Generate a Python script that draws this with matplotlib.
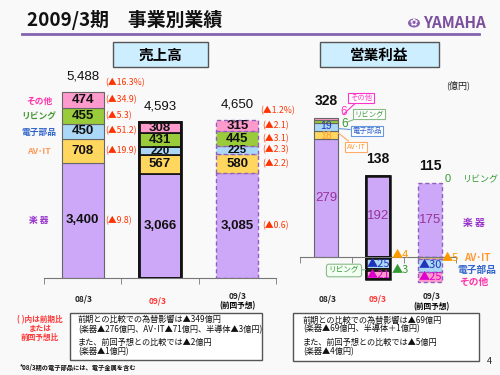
import matplotlib
matplotlib.use('Agg')
import matplotlib.pyplot as plt
import numpy as np
from matplotlib.patches import Rectangle, Circle

plt.rcParams['font.family'] = ['Noto Sans CJK JP', 'DejaVu Sans']

W, H = 500, 375
fig = plt.figure(figsize=(5, 3.75), dpi=100)
fig.patch.set_facecolor('#f9f9f9')

NUMF = ['Liberation Sans', 'DejaVu Sans']

# ---------------- data ----------------
periods = ['08/3', '09/3', '09/3']
period_sub = ['', '', '(前回予想)']
segments = ['楽 器', 'AV･IT', '電子部品', 'リビング', 'その他']
seg_colors = ['#CDA8F8', '#FFD75E', '#AAD8F6', '#9ACB3A', '#FF9ACD']
seg_text_colors = ['#9933CC', '#FF9955', '#3366CC', '#449933', '#FF33AA']

sales_gakki = [3400, 3066, 3085]
sales_avit = [708, 567, 580]
sales_denshi = [450, 220, 225]
sales_living = [455, 431, 445]
sales_other = [474, 308, 315]
sales_total = [5488, 4593, 4650]
sales_chg_prev = ['(▲9.8)', '(▲19.9)', '(▲51.2)', '(▲5.3)', '(▲34.9)']
sales_chg_fcst = ['(▲0.6)', '(▲2.2)', '(▲2.3)', '(▲3.1)', '(▲2.1)']
sales_total_chg = ['(▲16.3%)', '', '(▲1.2%)']

op_gakki = [279, 192, 175]
op_avit = [18, -4, -5]
op_denshi = [19, -25, -30]
op_living = [6, -3, 0]
op_other = [6, -21, -25]
op_total = [328, 138, 115]


def ftext(x, y, s, **kw):
    return fig.text(x / W, 1 - y / H, s, **kw)


def frect(x0, y0, x1, y1, **kw):
    r = Rectangle((x0 / W, 1 - y1 / H), (x1 - x0) / W, (y1 - y0) / H,
                  transform=fig.transFigure, **kw)
    fig.patches.append(r)
    return r


def fmt_tri(v):
    return ('▲%d' % -v) if v < 0 else '%d' % v


styles = [dict(edgecolor='#666666', linewidth=0.8, linestyle='-'),
          dict(edgecolor='#111111', linewidth=1.2, linestyle='-'),
          dict(edgecolor='#9060C0', linewidth=1.0, linestyle=(0, (3, 2)))]

# ---------------- title ----------------
ftext(27, 20, '2009/3期　事業別業績', fontsize=13.6, fontweight='bold', va='center', ha='left',
      color='#111111')
fig.add_artist(plt.Line2D([22 / W, 479 / W], [1 - 34 / H, 1 - 34 / H], transform=fig.transFigure,
                          color='#8563B0', lw=2))
fig.patches.append(Circle((414 / W, 1 - 23 / H), 6 / W, transform=fig.transFigure,
                          facecolor='#8A62B0', edgecolor='none'))
ftext(414, 23, '✿', fontsize=7, ha='center', va='center', color='white', family=['DejaVu Sans'])
ftext(423, 22.5, 'YAMAHA', fontsize=11, fontweight='bold', ha='left', va='center', color='#7B4F9E')

# header boxes
frect(113, 42, 208, 67, facecolor='#CCEEFF', edgecolor='#555555', lw=1)
ftext(160.5, 54.5, '売上高', fontsize=10.5, fontweight='bold', ha='center', va='center')
frect(320, 42, 439, 67, facecolor='#CCEEFF', edgecolor='#555555', lw=1)
ftext(379.5, 54.5, '営業利益', fontsize=10.5, fontweight='bold', ha='center', va='center')

# ---------------- left chart: sales ----------------
axL = fig.add_axes([44 / W, (H - 278) / H, 232 / W, 6000 * 0.03389 / H])
axL.set_xlim(-0.5, 2.5)
axL.set_ylim(0, 6000)
axL.patch.set_alpha(0)
for s in ['top', 'left', 'right']:
    axL.spines[s].set_visible(False)
axL.spines['bottom'].set_color('#777777')
axL.set_yticks([])
axL.set_xticks([])
axL.set_xticks([-0.5, 0.5, 1.5, 2.5], minor=True)
axL.tick_params(axis='x', which='minor', length=4, color='#777777')

sales_series = [sales_gakki, sales_avit, sales_denshi, sales_living, sales_other]
bwL = 0.54
x_idx = np.arange(3)
for i in x_idx:
    bottom = 0
    for k, ser in enumerate(sales_series):
        v = ser[i]
        axL.bar(i, v, bottom=bottom, width=bwL, color=seg_colors[k], **styles[i])
        fs = 8.2 if v < 300 else 9.5
        axL.text(i, bottom + v / 2, f'{v:,}', ha='center', va='center', fontsize=fs,
                 fontweight='bold', color='#111111', family=NUMF)
        if i == 0:
            axL.text(i + bwL / 2 + 0.02, bottom + v / 2, sales_chg_prev[k], ha='left', va='center',
                     fontsize=6.3, color='#FF3300')
        if i == 2:
            axL.text(i + bwL / 2 + 0.05, bottom + v / 2, sales_chg_fcst[k], ha='left', va='center',
                     fontsize=6.3, color='#FF3300')
        bottom += v
    if i == 1:
        axL.bar(i, sales_total[i], width=bwL, fill=False, edgecolor='#111111', linewidth=2)
    axL.annotate(f'{sales_total[i]:,}', xy=(i, sales_total[i]), xytext=(0, 11.5),
                 textcoords='offset points', ha='center', va='center', fontsize=9.5,
                 color='#111111', family=NUMF)
    if sales_total_chg[i]:
        axL.annotate(sales_total_chg[i], xy=(i + bwL / 2 + 0.02, sales_total[i]), xytext=(0, 7),
                     textcoords='offset points', ha='left', va='center', fontsize=6.3,
                     color='#FF3300')

# left category labels
for k, (lab, yy) in enumerate(zip(segments, [220, 152, 132, 117, 101])):
    ftext(39, yy, lab, ha='center', va='center', fontsize=6.3, fontweight='bold',
          color=seg_text_colors[k])

# x labels left
for i, (xx, yy) in enumerate(zip([84, 158, 238], [299, 301, 296])):
    ftext(xx, yy, periods[i], ha='center', va='center', fontsize=6, fontweight='bold',
          color='#FF3333' if i == 1 else '#222222')
ftext(238, 306, period_sub[2], ha='center', va='center', fontsize=5.5, fontweight='bold')

# ---------------- right chart: operating income ----------------
sc = 0.424
axR = fig.add_axes([300 / W, (H - (257 + 70 * sc)) / H, 156 / W, 450 * sc / H])
axR.set_xlim(-0.5, 2.5)
axR.set_ylim(-70, 380)
axR.patch.set_alpha(0)
for s in ['top', 'left', 'right']:
    axR.spines[s].set_visible(False)
axR.spines['bottom'].set_position(('data', 0))
axR.spines['bottom'].set_color('#777777')
axR.set_yticks([])
axR.set_xticks([])
axR.set_xticks([-0.5, 0.5, 1.5, 2.5], minor=True)
axR.tick_params(axis='x', which='minor', length=4, color='#777777')

op_series = [op_gakki, op_avit, op_denshi, op_living, op_other]
bwR = 0.48
op_label_pos = {}
for i in x_idx:
    pos_b, neg_b = 0, 0
    for k, ser in enumerate(op_series):
        v = ser[i]
        if v >= 0:
            b = pos_b
            pos_b += v
        else:
            b = neg_b
            neg_b += v
        if v != 0:
            axR.bar(i, v, bottom=b, width=bwR, color=seg_colors[k], **styles[i])
        op_label_pos[(i, k)] = b + v / 2
    if i == 1:
        axR.bar(i, pos_b, width=bwR, fill=False, edgecolor='#111111', linewidth=1.8)
        axR.bar(i, neg_b, width=bwR, fill=False, edgecolor='#111111', linewidth=1.8)
    axR.annotate(f'{op_total[i]}', xy=(i, pos_b), xytext=(0, 12),
                 textcoords='offset points', ha='center', va='center', fontsize=10,
                 fontweight='bold', color='#111111', family=NUMF)

# in-bar labels
for i in x_idx:
    axR.text(i, op_label_pos[(i, 0)], f'{op_gakki[i]}', ha='center', va='center', fontsize=9.5,
             color='#993399', family=NUMF)
axR.text(0, op_label_pos[(0, 1)] - 1.5, f'{op_avit[0]}', ha='center', va='center', fontsize=7.5,
         color='#FF9933', family=NUMF)
axR.text(0, op_label_pos[(0, 2)] + 1.5, f'{op_denshi[0]}', ha='center', va='center', fontsize=7.5,
         color='#2233BB', family=NUMF)
for i in [1, 2]:
    axR.text(i, op_label_pos[(i, 2)], fmt_tri(op_denshi[i]), ha='center', va='center',
             fontsize=8, color='#2233BB')
    axR.text(i, op_label_pos[(i, 4)], fmt_tri(op_other[i]), ha='center', va='center',
             fontsize=8, color='#DD00CC')
# outside labels
axR.text(1 + bwR / 2 + 0.03, 5, fmt_tri(op_avit[1]), ha='left', va='center', fontsize=8,
         color='#FF9900')
axR.text(1 + bwR / 2 + 0.03, -30, fmt_tri(op_living[1]), ha='left', va='center', fontsize=8,
         color='#339933')
axR.text(2 + bwR / 2 - 0.02, -2, fmt_tri(op_avit[2]), ha='left', va='center', fontsize=8,
         color='#FF9900')
axR.text(2 + bwR / 2 + 0.05, 185, fmt_tri(op_living[2]), ha='left', va='center', fontsize=8,
         color='#339933', family=NUMF)
ftext(462, 180, 'リビング', ha='left', va='center', fontsize=6.5, color='#339933')

# 08/3 small values with callouts
axR.text(0 + bwR / 2 + 0.03, 342, f'{op_other[0]}', ha='left', va='center', fontsize=8.5,
         color='#FF33CC', family=NUMF)
axR.text(0 + bwR / 2 + 0.05, 314, f'{op_living[0]}', ha='left', va='center', fontsize=8.5,
         color='#339933', family=NUMF)

callouts = [('その他', 361, 98, '#FF33CC', '#FF33CC', (0.33, 336)),
            ('リビング', 369, 114, '#339933', '#88BB88', (0.4, 318)),
            ('電子部品', 367, 131, '#3366CC', '#6699DD', (0.24, 303)),
            ('AV･IT', 356, 147, '#FF9933', '#FFAA66', (0.24, 292))]
for lab, xx, yy, tc, ec, xy in callouts:
    axR.annotate(lab, xy=xy, xytext=(xx / W, 1 - yy / H), textcoords='figure fraction',
                 ha='center', va='center', fontsize=5.3, color=tc,
                 bbox=dict(boxstyle='square,pad=0.2', facecolor='white', edgecolor=ec, lw=0.8),
                 arrowprops=dict(arrowstyle='-', color=ec, lw=0.8, shrinkA=0, shrinkB=0))

# 09/3 リビング callout
axR.annotate('リビング', xy=(1 - bwR / 2, -30), xytext=(344 / W, 1 - 270.5 / H),
             textcoords='figure fraction', ha='center', va='center', fontsize=5.5,
             color='#339933',
             bbox=dict(boxstyle='round,pad=0.3', facecolor='#F4FFF4', edgecolor='#88BB88', lw=0.8),
             arrowprops=dict(arrowstyle='-', color='#88BB88', lw=0.8, shrinkA=0, shrinkB=0))

# right category labels
for lab, xx, yy, c in [('楽 器', 474, 223, '#9933CC'), ('AV･IT', 477, 258, '#FF9933'),
                       ('電子部品', 477, 270, '#3366CC'), ('その他', 474, 282, '#FF33AA')]:
    ftext(xx, yy, lab, ha='center', va='center', fontsize=7, fontweight='bold', color=c)

ftext(458, 85, '(億円)', ha='center', va='center', fontsize=6.5, color='#222222')

# x labels right
for i, (xx, yy) in enumerate(zip([328, 378, 432], [299, 299, 296])):
    ftext(xx, yy, periods[i], ha='center', va='center', fontsize=6, fontweight='bold',
          color='#FF3333' if i == 1 else '#222222')
ftext(432, 307, period_sub[2], ha='center', va='center', fontsize=5.5, fontweight='bold')

# ---------------- notes ----------------
for yy, s in zip([320, 329, 337], ['( )内は前期比', 'または', '前回予想比']):
    ftext(40, yy, s, ha='center', va='center', fontsize=5.5, fontweight='bold', color='#FF3333')

frect(70, 313, 262, 360, facecolor='white', edgecolor='#555555', lw=1)
for yy, s in zip([319, 330, 342, 352],
                 ['前期との比較での為替影響は▲349億円',
                  '(楽器▲276億円、AV･IT▲71億円、半導体▲3億円)',
                  'また、前回予想との比較では▲2億円',
                  '(楽器▲1億円)']):
    ftext(78, yy, s, ha='left', va='center', fontsize=5.9, color='#111111')

frect(293, 313, 479, 361, facecolor='white', edgecolor='#555555', lw=1)
for yy, s in zip([320, 329, 342, 352],
                 ['前期との比較での為替影響は▲69億円',
                  '(楽器▲69億円、半導体＋1億円)',
                  'また、前回予想との比較では▲5億円',
                  '(楽器▲4億円)']):
    ftext(303, yy, s, ha='left', va='center', fontsize=5.9, color='#111111')

ftext(20, 367, '*08/3期の電子部品には、電子金属を含む', ha='left', va='center', fontsize=4.5,
      fontweight='bold', color='#111111')
ftext(489, 362, '4', ha='center', va='center', fontsize=6.5, color='#222222')

fig.savefig('out.png', dpi=100, facecolor=fig.get_facecolor())
